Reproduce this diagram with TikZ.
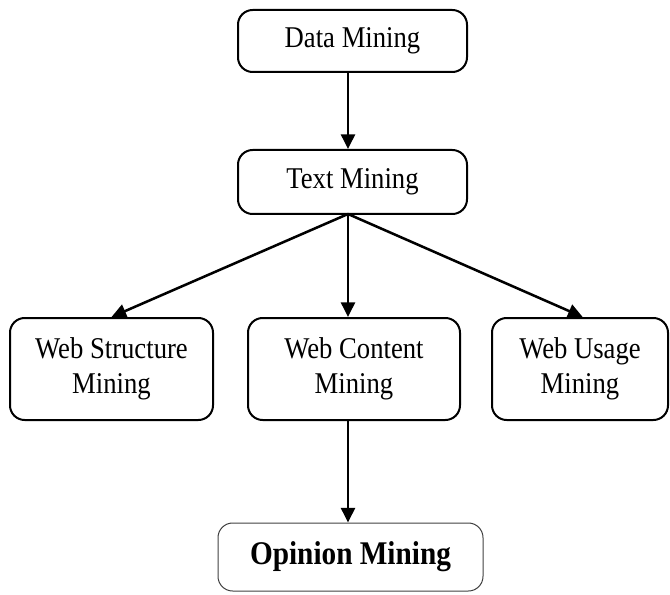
\documentclass[tikz,border=0pt]{standalone}
\usepackage{fontspec}
\setmainfont{Liberation Serif}[FakeStretch=0.885]
\usetikzlibrary{arrows.meta}
\begin{document}
\begin{tikzpicture}[x=0.75pt, y=-0.75pt,
    box/.style={draw, line width=1.5pt, rounded corners=11pt, align=center, inner sep=0pt,
        font=\fontsize{22.6}{26}\selectfont},
    arr/.style={line width=1.9pt, -{Triangle[length=11pt, width=10.5pt]}}]

            \useasboundingbox (0,0) rectangle (670,595);

            \node[box, minimum width=171.75pt, minimum height=46.5pt] (data) at (352.5,41) {Data Mining};
            \node[box, minimum width=171.75pt, minimum height=48pt] (text) at (352.5,182) {Text Mining};
            \node[box, minimum width=152.25pt, minimum height=76.5pt] (struct) at (111.5,369) {Web Structure\\Mining};
            \node[box, minimum width=159pt, minimum height=76.5pt] (content) at (354,369) {Web Content\\Mining};
            \node[box, minimum width=132pt, minimum height=76.5pt] (usage) at (580,369) {Web Usage\\Mining};
            \node[box, line width=0.75pt, draw=black!75, minimum width=198.75pt, minimum height=51pt,
                font=\fontsize{24.8}{28}\selectfont\bfseries] (opinion) at (350.5,557) {Opinion Mining};

            \coordinate (fork) at (348,214);

            \draw[arr] (data.south -| fork) -- (text.north -| fork);

            \draw[arr] (fork) -- (struct.north);
            \draw[arr] (fork) -- (content.north -| fork);
            \draw[arr] (fork) -- ([xshift=2pt]usage.north);

            \draw[arr] (content.south -| fork) -- (opinion.north -| fork);

\end{tikzpicture}
\end{document}
